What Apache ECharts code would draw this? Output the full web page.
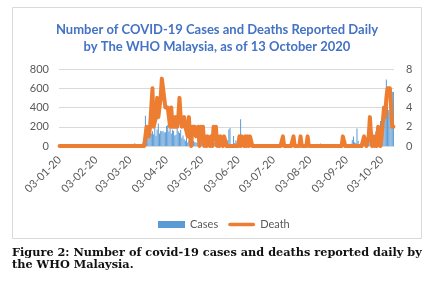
<!DOCTYPE html>
<html>
<head>
<meta charset="utf-8">
<script src="https://cdn.jsdelivr.net/npm/echarts@6/dist/echarts.min.js"></script>
<style>
  html, body { margin: 0; padding: 0; background: #fff; }
  #chart { width: 441px; height: 288px; }
</style>
</head>
<body>
<div id="chart"></div>
<script>
// daily values reported by WHO for Malaysia, 3 Jan 2020 .. 13 Oct 2020
const casesJan = [0,0,0,0,0,0,0,0,0,0,0,0,0,0,0,0,0,0,0,0,0,0,0,3,1,0,0,3,0]; // 3..31 Jan
const casesFeb = [0,0,0,2,2,2,2,1,1,1,0,1,0,0,0,3,0,0,0,0,0,0,0,0,0,0,0,1,1];
const casesMar = [0,0,4,7,14,5,28,10,6,18,12,20,9,39,41,315,125,120,117,110,130,153,123,212,106,172,235,130,159,150,156];
const casesApr = [140,142,208,217,150,179,131,170,156,109,118,184,153,134,170,85,110,69,54,84,36,57,50,71,88,51,38,40,31,94];
const casesMay = [57,69,105,122,55,30,45,39,68,54,67,70,16,37,40,36,17,22,47,37,31,50,78,48,60,172,187,15,10,103,30];
const casesJun = [57,38,20,93,277,19,37,19,7,7,2,31,33,51,41,21,8,12,10,6,21,15,3,2,4,3,7,11,4,5];
const casesJul = [3,3,3,3,4,8,6,1,2,3,6,3,2,8,1,7,15,15,8,5,9,15,14,15,25,23,17,5,4,4,16];
const casesAug = [19,4,5,10,18,14,7,12,3,7,12,25,7,3,13,6,6,20,9,15,13,9,8,5,3,4,2,3,12,6,1];
const casesSep = [6,8,11,4,13,6,24,62,100,40,32,182,54,21,26,24,17,21,38,19,52,27,57,82,147,111,115,150,115,101];
const casesOct = [89,260,287,317,293,432,691,489,375,354,374,563,561]; // 1..13 Oct

const deathJan = [0,0,0,0,0,0,0,0,0,0,0,0,0,0,0,0,0,0,0,0,0,0,0,0,0,0,0,0,0];
const deathFeb = [0,0,0,0,0,0,0,0,0,0,0,0,0,0,0,0,0,0,0,0,0,0,0,0,0,0,0,0,0];
const deathMar = [0,0,0,0,0,0,0,0,0,0,0,0,0,0,0,0,2,2,1,2,4,6,2,2,3,5,3,3,5,7,6];
const deathApr = [6,4,4,4,3,2,4,2,3,2,3,2,3,5,3,2,2,3,2,2,1,3,1,0,2,2,2,1,1,2];
const deathMay = [0,2,1,2,0,1,0,1,1,0,1,0,2,1,2,0,1,0,1,1,0,1,1,0,0,0,0,0,0,0,0];
const deathJun = [0,0,0,1,0,1,1,0,1,0,1,0,1,1,0,0,0,0,0,0,0,0,0,0,0,0,0,0,0,0];
const deathJul = [0,0,0,0,0,0,0,0,0,0,1,0,0,0,0,0,0,0,0,1,0,0,0,0,0,1,0,0,0,0,0];
const deathAug = [1,0,0,0,0,0,0,0,0,0,0,0,0,0,0,0,0,0,0,0,0,0,0,0,0,0,0,0,0,0,1];
const deathSep = [1,0,0,0,0,0,0,0,0,0,0,0,0,0,0,0,0,1,1,0,0,1,3,1,0,1,0,1,0,2];
const deathOct = [2,0,1,1,4,3,5,6,6,6,4,2,2];

const cases = [].concat(casesJan, casesFeb, casesMar, casesApr, casesMay, casesJun, casesJul, casesAug, casesSep, casesOct);
const deaths = [].concat(deathJan, deathFeb, deathMar, deathApr, deathMay, deathJun, deathJul, deathAug, deathSep, deathOct);

// category labels dd-mm-yy
const days = [];
for (let i = 0; i < cases.length; i++) {
  const d = new Date(Date.UTC(2020, 0, 3 + i));
  const dd = String(d.getUTCDate()).padStart(2, '0');
  const mm = String(d.getUTCMonth() + 1).padStart(2, '0');
  days.push(`${dd}-${mm}-20`);
}

const font = 'Lato';
const grey = '#595959';
const captionFont = 'bold 11.3px "DejaVu Serif"';

const chart = echarts.init(document.getElementById('chart'));
chart.setOption({
  animation: false,
  grid: { left: 59, right: 47, top: 69, bottom: 142 },
  legend: {
    data: [
      { name: 'Cases', icon: 'rect' },
      { name: 'Death', icon: 'path://M2,0 H28 A2,2 0 0 1 28,4 H2 A2,2 0 0 1 2,0 Z' }
    ],
    left: 153, top: 214,
    itemWidth: 27, itemHeight: 7, itemGap: 10,
    textStyle: { color: grey, fontSize: 11, fontFamily: font }
  },
  xAxis: {
    type: 'category',
    data: days,
    axisTick: { show: false },
    axisLine: { lineStyle: { color: '#D9D9D9' } },
    axisLabel: {
      rotate: 45, margin: 12, color: grey, fontSize: 11, fontFamily: font,
      interval: (idx, val) => val.slice(0, 2) === '03'
    }
  },
  yAxis: [
    {
      type: 'value', min: 0, max: 800, interval: 200,
      axisLabel: { color: grey, fontSize: 11, fontFamily: font, margin: 10 },
      splitLine: { lineStyle: { color: '#D9D9D9' } }
    },
    {
      type: 'value', min: 0, max: 8, interval: 2,
      axisLabel: { color: grey, fontSize: 11, fontFamily: font, margin: 12 },
      splitLine: { show: false }
    }
  ],
  series: [
    {
      name: 'Cases', type: 'bar', data: cases,
      barCategoryGap: '50%',
      itemStyle: { color: '#5B9BD5' }
    },
    {
      name: 'Death', type: 'line', yAxisIndex: 1, data: deaths,
      symbol: 'none',
      itemStyle: { color: '#ED7D31' },
      lineStyle: { width: 4, color: '#ED7D31', join: 'round', cap: 'round' }
    }
  ],
  graphic: [
    {
      type: 'rect', silent: true,
      shape: { x: 12.5, y: 7.5, width: 409, height: 231 },
      style: { fill: 'none', stroke: '#D9D9D9', lineWidth: 1 }
    },
    {
      type: 'text', x: 217, y: 21,
      style: {
        text: 'Number of COVID-19 Cases and Deaths Reported Daily\nby The WHO Malaysia, as of 13 October 2020',
        font: 'bold 13px Lato', fill: '#4472C4', textAlign: 'center', lineHeight: 17
      }
    },
    {
      type: 'text', x: 12, y: 248,
      style: { text: 'Figure 2: Number of covid-19 cases and deaths reported daily by', font: captionFont, fill: '#111' }
    },
    {
      type: 'text', x: 12, y: 260,
      style: { text: 'the WHO Malaysia.', font: captionFont, fill: '#111' }
    }
  ]
});
</script>
</body>
</html>
